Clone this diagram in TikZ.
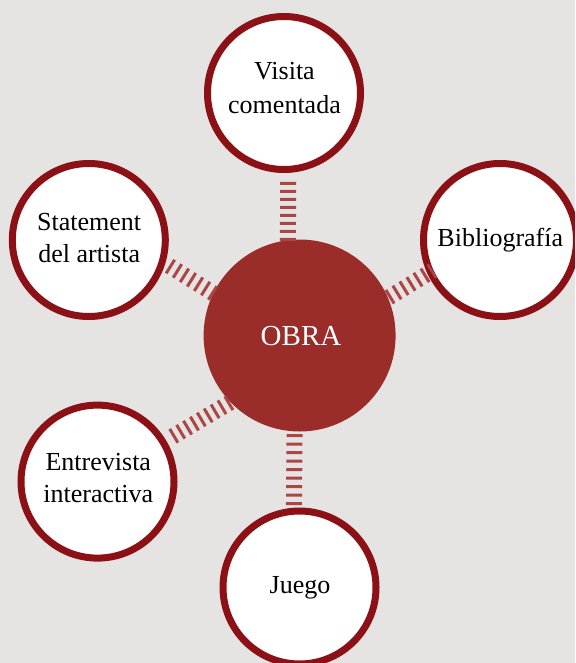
\documentclass[tikz,border=0pt]{standalone}
\usepackage{fontspec}
\setmainfont{Liberation Serif}
\definecolor{bgc}{RGB}{230,228,226}
\definecolor{brd}{RGB}{139,17,22}
\definecolor{corefill}{RGB}{154,44,41}
\definecolor{stripe}{RGB}{172,70,70}
\tikzset{
  sat/.style={circle, draw=brd, line width=7pt, fill=white, minimum size=153pt, inner sep=0pt},
  core/.style={circle, fill=corefill, minimum size=192pt, inner sep=0pt, outer sep=0pt},
  lbl/.style={font=\fontsize{26}{32}\selectfont, align=center, inner sep=0pt, text=black},
  hatchline/.style={draw=stripe, line width=16pt, dash pattern=on 3pt off #1}
}
\begin{document}
\begin{tikzpicture}[x=1pt,y=-1pt]
\useasboundingbox (0,0) rectangle (575,663);
\clip (0,0) rectangle (575,663);
\fill[bgc] (0,0) rectangle (575,663);

\node[core] (o) at (299.6,335.5) {};
\node[sat] (v) at (284,93) {};
\node[sat] (s) at (88.8,240) {};
\node[sat] (b) at (500,240) {};
\node[sat] (e) at (97.5,481.6) {};
\node[sat] (j) at (299.5,587.5) {};

\node[lbl, text=white, font=\fontsize{29}{34}\selectfont] (ot) at (301,336) {OBRA};
\node[lbl, font=\fontsize{26}{34}\selectfont] (vt) at (284.5,88.5) {Visita\\comentada};
\node[lbl] (st) at (89.2,238.5) {Statement\\del artista};
\node[lbl] (bt) at (500.3,240.5) {Bibliografía};
\node[lbl] (et) at (98.3,478.5) {Entrevista\\interactiva};
\node[lbl] (jt) at (300,587.5) {Juego};

\draw[hatchline=5pt, shorten <=8.9pt, shorten >=-1pt] (v.-87) -- (o.97);
\draw[hatchline=5.5pt, shorten <=2.7pt, shorten >=2.5pt] (o.-93) -- (j.94);
\draw[hatchline=5.3pt, shorten <=4.5pt, shorten >=-1pt] (s.-17) -- (o.154);
\draw[hatchline=5.2pt, shorten <=0.9pt, shorten >=-6.3pt] (o.23) -- (b.205);
\draw[hatchline=5pt, shorten <=7.5pt, shorten >=0.4pt] (e.31) -- (o.224);
\end{tikzpicture}
\end{document}
